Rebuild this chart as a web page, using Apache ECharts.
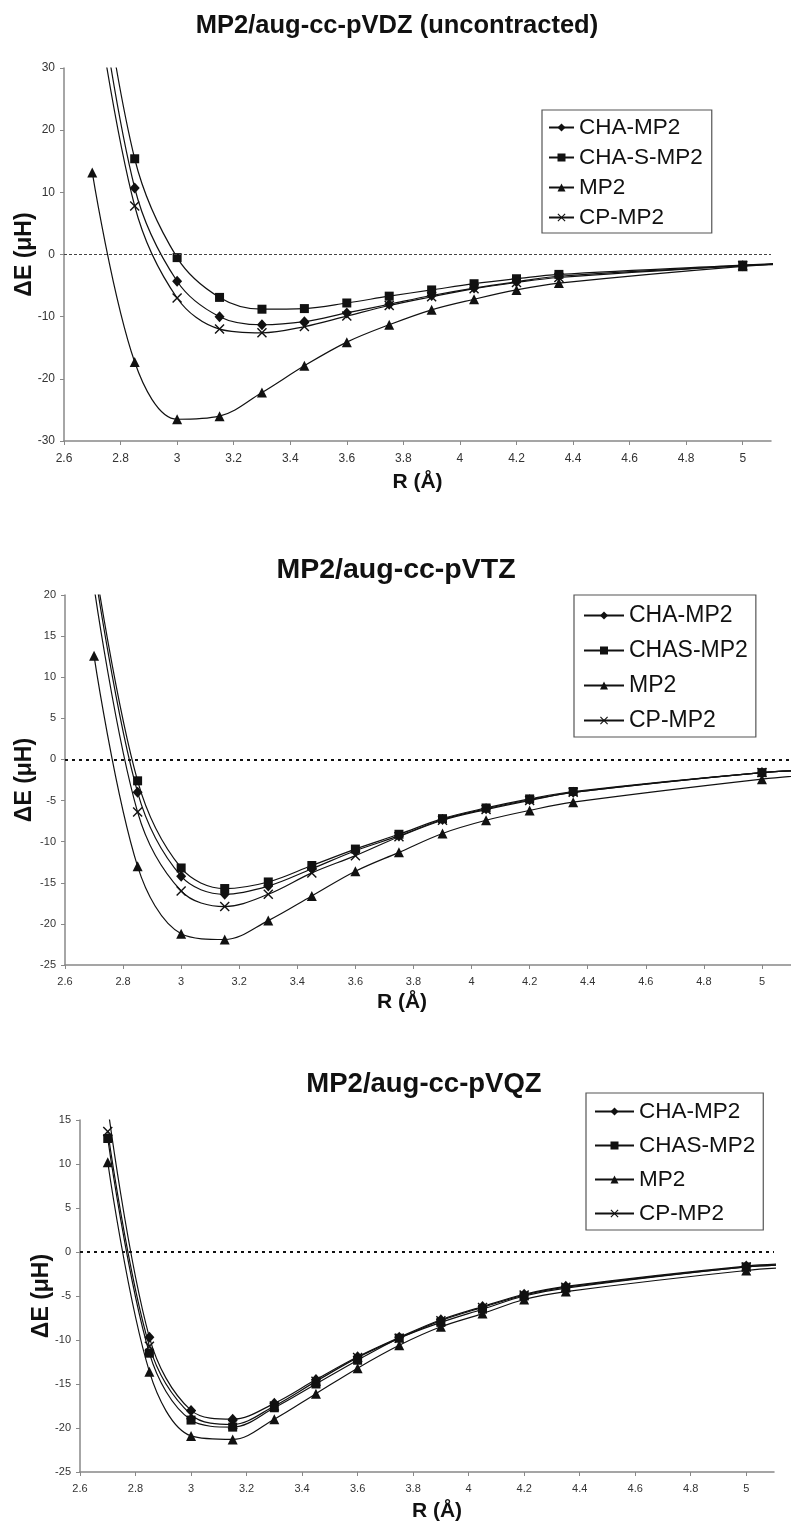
<!DOCTYPE html>
<html>
<head>
<meta charset="utf-8">
<script src="https://cdn.jsdelivr.net/npm/echarts@6/dist/echarts.min.js"></script>
<style>
  html, body { margin: 0; padding: 0; background: #fff; }
  #main { width: 791px; height: 1524px; }
</style>
</head>
<body>
<div id="main"></div>
<script>
// R values (Å); 2.7 / 5.2 points for the CHA curves sit outside the plotted window and are clipped
const rValues = [2.7, 2.85, 3.0, 3.15, 3.3, 3.45, 3.6, 3.75, 3.9, 4.05, 4.2, 4.35, 5.0, 5.2];

// MP2/aug-cc-pVDZ (uncontracted)
const chaVDZ = [50, 10.7, -4.3, -10.0, -11.3, -10.8, -9.4, -8.0, -6.6, -5.4, -4.4, -3.5, -1.8, -1.4];
const chasVDZ = [55, 15.4, -0.5, -6.9, -8.8, -8.7, -7.8, -6.7, -5.7, -4.7, -3.9, -3.2, -1.7, -1.3];
const mp2VDZ = [13.2, -17.3, -26.5, -26.0, -22.2, -17.9, -14.1, -11.3, -8.9, -7.2, -5.7, -4.6, -1.9, -1.5];
const cpVDZ = [45, 7.8, -7.0, -12.0, -12.6, -11.6, -9.9, -8.2, -6.8, -5.5, -4.5, -3.7, -1.8, -1.4];

// MP2/aug-cc-pVTZ
const chaVTZ = [23.5, -4.0, -14.2, -16.4, -15.4, -13.3, -11.1, -9.3, -7.3, -6.0, -4.9, -4.0, -1.6, -1.3];
const chasVTZ = [24.5, -2.6, -13.2, -15.7, -14.9, -12.9, -10.9, -9.1, -7.2, -5.9, -4.8, -3.9, -1.6, -1.3];
const mp2VTZ = [12.6, -13.0, -21.2, -21.9, -19.6, -16.6, -13.6, -11.3, -9.0, -7.4, -6.2, -5.2, -2.4, -1.8];
const cpVTZ = [21, -6.4, -16.0, -17.9, -16.4, -13.8, -11.7, -9.4, -7.4, -6.1, -5.0, -4.0, -1.6, -1.3];

// MP2/aug-cc-pVQZ
const chaVQZ = [16.5, -9.7, -18.0, -19.0, -17.2, -14.5, -11.9, -9.7, -7.7, -6.2, -4.8, -3.9, -1.6, -1.3];
const chasVQZ = [12.9, -11.5, -19.1, -19.9, -17.7, -15.0, -12.3, -9.8, -8.0, -6.5, -5.0, -4.1, -1.7, -1.4];
const mp2VQZ = [10.2, -13.6, -20.9, -21.3, -19.0, -16.1, -13.2, -10.6, -8.5, -7.0, -5.4, -4.5, -2.1, -1.7];
const cpVQZ = [13.7, -10.7, -18.5, -19.6, -17.5, -14.7, -12.0, -9.8, -7.8, -6.3, -4.9, -4.0, -1.7, -1.4];

// tick labels
const xTicks = [2.6, 2.8, 3, 3.2, 3.4, 3.6, 3.8, 4, 4.2, 4.4, 4.6, 4.8, 5];
const yTicksVDZ = [-30, -20, -10, 0, 10, 20, 30];
const yTicksVTZ = [-25, -20, -15, -10, -5, 0, 5, 10, 15, 20];
const yTicksVQZ = [-25, -20, -15, -10, -5, 0, 5, 10, 15];

const titles = ['MP2/aug-cc-pVDZ (uncontracted)', 'MP2/aug-cc-pVTZ', 'MP2/aug-cc-pVQZ'];
const namesVDZ = ['CHA-MP2', 'CHA-S-MP2', 'MP2', 'CP-MP2'];
const namesOther = ['CHA-MP2', 'CHAS-MP2', 'MP2', 'CP-MP2'];

const FONT = '"Liberation Sans", Arial, sans-serif';
const crossPath = 'path://M0,1L1,0L5,4L9,0L10,1L6,5L10,9L9,10L5,6L1,10L0,9L4,5Z';
const markers = [
  { symbol: 'diamond', size: [10, 11] },
  { symbol: 'rect', size: 9 },
  { symbol: 'triangle', size: 10 },
  { symbol: crossPath, size: 10 },
];

// one layout entry per panel
const panels = [
  {
    names: namesVDZ, values: [chaVDZ, chasVDZ, mp2VDZ, cpVDZ], yTicks: yTicksVDZ,
    grid: { left: 64, top: 68, width: 707, height: 373 },
    title: { x: 397, y: 13, size: 25.5 },
    legend: { left: 542, top: 110, gap: 7, font: 22.5, iw: 25, pad: [6, 9, 4, 6] },
    labelSize: 12, labelMargin: 12, yNameGap: 28, xNameGap: 31, xNamePad: [0, 0, 0, 0],
    zero: { width: 1, type: [3, 2], color: '#444' },
  },
  {
    names: namesOther, values: [chaVTZ, chasVTZ, mp2VTZ, cpVTZ], yTicks: yTicksVTZ,
    grid: { left: 65, top: 595, width: 726, height: 370 },
    title: { x: 396, y: 556, size: 28.5 },
    legend: { left: 574, top: 595, gap: 12, font: 23, iw: 40, pad: [9, 8, 5, 9] },
    labelSize: 11, labelMargin: 11, yNameGap: 29, xNameGap: 27, xNamePad: [0, 52, 0, 0],
    zero: { width: 2, type: [3, 4], color: '#111' },
  },
  {
    names: namesOther, values: [chaVQZ, chasVQZ, mp2VQZ, cpVQZ], yTicks: yTicksVQZ,
    grid: { left: 80, top: 1120, width: 694, height: 352 },
    title: { x: 424, y: 1070, size: 27.5 },
    legend: { left: 586, top: 1093, gap: 11, font: 22.5, iw: 39, pad: [7, 8, 5, 8] },
    labelSize: 11, labelMargin: 11, yNameGap: 27, xNameGap: 29, xNamePad: [0, 0, 0, 20],
    zero: { width: 2, type: [3, 4], color: '#111' },
  },
];

const title = [];
const grid = [];
const legend = [];
const xAxis = [];
const yAxis = [];
const series = [];

panels.forEach((p, idx) => {
  title.push({
    text: titles[idx],
    left: p.title.x,
    top: p.title.y,
    textAlign: 'center',
    padding: 0,
    textStyle: { fontFamily: FONT, fontWeight: 'bold', fontSize: p.title.size, color: '#111' },
  });
  grid.push(Object.assign({ outerBoundsMode: 'none', containLabel: false }, p.grid));
  legend.push({
    data: p.names,
    orient: 'vertical',
    left: p.legend.left,
    top: p.legend.top,
    padding: p.legend.pad,
    itemGap: p.legend.gap,
    itemWidth: p.legend.iw,
    itemHeight: 10,
    borderColor: '#555',
    borderWidth: 1.2,
    selectedMode: false,
    textStyle: { fontFamily: FONT, fontSize: p.legend.font, color: '#111' },
  });
  xAxis.push({
    type: 'value',
    gridIndex: idx,
    min: 2.6,
    max: 5.1,
    name: 'R (Å)',
    nameLocation: 'middle',
    nameGap: p.xNameGap,
    nameMoveOverlap: false,
    nameTextStyle: { fontFamily: FONT, fontWeight: 'bold', fontSize: 21, color: '#111', padding: p.xNamePad },
    axisLine: { onZero: false, lineStyle: { color: '#888', width: 1.5 } },
    axisTick: { customValues: xTicks, length: 4, lineStyle: { color: '#888' } },
    axisLabel: { customValues: xTicks, fontFamily: FONT, fontSize: p.labelSize, color: '#333', margin: p.labelMargin },
    splitLine: { show: false },
  });
  yAxis.push({
    type: 'value',
    gridIndex: idx,
    min: p.yTicks[0],
    max: p.yTicks[p.yTicks.length - 1],
    name: 'ΔE (μH)',
    nameLocation: 'middle',
    nameGap: p.yNameGap,
    nameMoveOverlap: false,
    nameTextStyle: { fontFamily: FONT, fontWeight: 'bold', fontSize: 23, color: '#111' },
    axisLine: { show: true, onZero: false, lineStyle: { color: '#888', width: 1.5 } },
    axisTick: { show: true, customValues: p.yTicks, length: 4, lineStyle: { color: '#888' } },
    axisLabel: { customValues: p.yTicks, fontFamily: FONT, fontSize: p.labelSize, color: '#333', margin: 9 },
    splitLine: { show: false },
  });
  p.names.forEach((name, k) => {
    const s = {
      name,
      type: 'line',
      xAxisIndex: idx,
      yAxisIndex: idx,
      data: rValues.map((r, i) => [r, p.values[k][i]]),
      smooth: 0.35,
      clip: true,
      symbol: markers[k].symbol,
      symbolSize: markers[k].size,
      showAllSymbol: true,
      lineStyle: { color: '#111', width: 1.2 },
      itemStyle: { color: '#111' },
      emphasis: { disabled: true },
    };
    if (k === 0) {
      // dashed zero reference line
      s.markLine = {
        silent: true,
        symbol: 'none',
        label: { show: false },
        lineStyle: { color: p.zero.color, width: p.zero.width, type: p.zero.type },
        data: [{ yAxis: 0 }],
      };
    }
    series.push(s);
  });
});

const chart = echarts.init(document.getElementById('main'));
chart.setOption({
  animation: false,
  backgroundColor: '#fff',
  title,
  grid,
  legend,
  xAxis,
  yAxis,
  series,
});
</script>
</body>
</html>
